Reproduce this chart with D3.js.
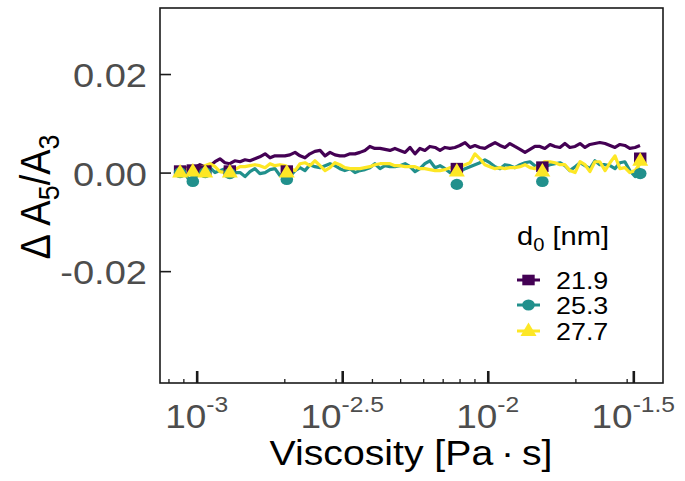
<!DOCTYPE html>
<html>
<head>
<meta charset="utf-8">
<script src="https://cdn.jsdelivr.net/npm/d3@7"></script>
<style>
  body { margin: 0; background: #fff; }
  svg { display: block; }
  text { font-family: "Liberation Sans", Arial, sans-serif; }
</style>
</head>
<body>
<div id="chart"></div>
<script>
// log10 of the viscosity grid of the lines (Pa*s)
const lineLogEta = [
  -3.075, -3.057, -3.040, -3.023, -3.006, -2.989, -2.972, -2.954, -2.937, -2.920,
  -2.903, -2.886, -2.869, -2.851, -2.834, -2.817, -2.800, -2.783, -2.765, -2.748,
  -2.731, -2.714, -2.697, -2.680, -2.662, -2.645, -2.628, -2.611, -2.594, -2.576,
  -2.559, -2.542, -2.525, -2.508, -2.491, -2.473, -2.456, -2.439, -2.422, -2.405,
  -2.388, -2.370, -2.353, -2.336, -2.319, -2.302, -2.284, -2.267, -2.250, -2.233,
  -2.216, -2.199, -2.181, -2.164, -2.147, -2.130, -2.113, -2.096, -2.078, -2.061,
  -2.044, -2.027, -2.010, -1.993, -1.975, -1.958, -1.941, -1.924, -1.907, -1.889,
  -1.872, -1.855, -1.838, -1.821, -1.804, -1.786, -1.769, -1.752, -1.735, -1.718,
  -1.700, -1.683, -1.666, -1.649, -1.632, -1.615, -1.597, -1.580, -1.563, -1.546,
  -1.529, -1.512, -1.494, -1.477
]

// d0 = 21.9 nm
const line219 = [
  0.0006, 0.0010, 0.0008, 0.0012, 0.0010, 0.0016, 0.0012, 0.0014, 0.0022, 0.0028,
  0.0020, 0.0018, 0.0024, 0.0022, 0.0026, 0.0024, 0.0028, 0.0032, 0.0038, 0.0030,
  0.0034, 0.0034, 0.0034, 0.0036, 0.0041, 0.0034, 0.0030, 0.0038, 0.0043, 0.0045,
  0.0034, 0.0041, 0.0036, 0.0034, 0.0034, 0.0038, 0.0038, 0.0041, 0.0045, 0.0053,
  0.0049, 0.0049, 0.0047, 0.0045, 0.0049, 0.0045, 0.0041, 0.0051, 0.0038, 0.0049,
  0.0045, 0.0053, 0.0051, 0.0045, 0.0051, 0.0049, 0.0051, 0.0055, 0.0061, 0.0051,
  0.0055, 0.0051, 0.0049, 0.0055, 0.0061, 0.0055, 0.0051, 0.0059, 0.0053, 0.0047,
  0.0041, 0.0047, 0.0053, 0.0053, 0.0049, 0.0057, 0.0053, 0.0051, 0.0059, 0.0051,
  0.0053, 0.0059, 0.0051, 0.0057, 0.0059, 0.0061, 0.0059, 0.0055, 0.0051, 0.0057,
  0.0055, 0.0049, 0.0051, 0.0055
]

// d0 = 25.3 nm
const line253 = [
  0.0008, 0.0004, -0.0002, -0.0018, -0.0012, 0.0000, 0.0004, 0.0010, 0.0000, 0.0004,
  0.0008, -0.0002, 0.0000, 0.0000, -0.0008, 0.0002, 0.0008, -0.0002, 0.0000, 0.0006,
  0.0008, -0.0006, 0.0000, -0.0008, 0.0004, 0.0010, 0.0004, 0.0016, 0.0012, 0.0010,
  0.0014, 0.0018, 0.0014, 0.0008, 0.0004, 0.0008, 0.0000, 0.0004, 0.0006, 0.0010,
  0.0018, 0.0008, 0.0014, 0.0012, 0.0012, 0.0014, 0.0018, 0.0012, 0.0002, 0.0008,
  0.0018, 0.0024, 0.0010, 0.0014, 0.0008, 0.0000, -0.0002, 0.0002, 0.0008, 0.0012,
  0.0016, 0.0020, 0.0026, 0.0020, 0.0012, 0.0008, 0.0016, 0.0014, 0.0010, 0.0016,
  0.0020, 0.0022, 0.0014, 0.0010, 0.0012, 0.0016, 0.0018, 0.0020, 0.0014, 0.0004,
  0.0012, 0.0020, 0.0014, 0.0008, 0.0024, 0.0016, 0.0016, 0.0014, 0.0008, 0.0020,
  0.0022, 0.0004, -0.0008, 0.0010
]

// d0 = 27.7 nm
const line277 = [
  0.0004, 0.0006, 0.0008, 0.0004, 0.0006, 0.0010, 0.0014, 0.0018, 0.0012, 0.0002,
  0.0000, 0.0000, 0.0006, 0.0012, 0.0012, 0.0014, 0.0016, 0.0014, 0.0010, 0.0018,
  0.0014, 0.0016, 0.0014, 0.0008, 0.0004, 0.0018, 0.0020, 0.0014, 0.0024, 0.0014,
  0.0004, 0.0010, 0.0020, 0.0016, 0.0010, 0.0008, 0.0008, 0.0008, 0.0010, 0.0012,
  0.0016, 0.0018, 0.0018, 0.0018, 0.0014, 0.0014, 0.0012, 0.0012, 0.0012, 0.0008,
  0.0008, 0.0006, 0.0004, 0.0004, 0.0006, 0.0010, 0.0010, 0.0012, 0.0016, 0.0020,
  0.0038, 0.0028, 0.0016, 0.0012, 0.0008, 0.0010, 0.0008, 0.0010, 0.0010, 0.0012,
  0.0016, 0.0010, 0.0008, 0.0016, 0.0022, 0.0022, 0.0020, 0.0016, 0.0016, 0.0004,
  0.0000, 0.0022, 0.0016, 0.0002, 0.0022, 0.0022, 0.0004, 0.0020, 0.0034, 0.0008,
  0.0010, 0.0000, 0.0004, 0.0018
]

// measured points (markers), viscosity in Pa*s
const pointEta = [0.000877, 0.00097, 0.00107, 0.0013, 0.00204, 0.00783, 0.0154, 0.0334]
const point219 = [0.0004, 0.0006, 0.0004, 0.0004, 0.0004, 0.0009, 0.0012, 0.0030]
const point253 = [0.0000, -0.0018, 0.0000, -0.0002, -0.0014, -0.0024, -0.0018, -0.0002]
const point277 = [0.0000, 0.0002, 0.0000, 0.0000, 0.0000, 0.0002, 0.0002, 0.0024]

const seriesNames = ["21.9", "25.3", "27.7"]
const seriesColors = ["#440154", "#21908C", "#FDE725"]

const yTicks = [-0.02, 0, 0.02]
const xMajorExp = ["-3", "-2.5", "-2", "-1.5"]
const xMinorTicks = [8e-4, 9e-4, 2e-3, 3e-3, 4e-3, 5e-3, 6e-3, 7e-3, 8e-3, 9e-3, 2e-2, 3e-2]

// layout
const W = 685, H = 481
const pLeft = 160, pRight = 663, pTop = 8, pBottom = 383
const SX = 1.12   // the reference text is a bit wider than Liberation Sans

const svg = d3.select("#chart").append("svg")
    .attr("width", W)
    .attr("height", H)

const x = d3.scaleLog()
    .domain([Math.pow(10, -3.126), Math.pow(10, -1.398)])
    .range([pLeft, pRight])
const y = d3.scaleLinear()
    .domain([-0.0427, 0.0334])
    .range([pBottom, pTop])

// text helper (stretched a bit horizontally)
function addText(g, tx, ty, anchor, size, color, rot) {
    return g.append("text")
        .attr("transform", "translate(" + tx + "," + ty + ") scale(" + SX + ",1)" + (rot ? " rotate(" + rot + ")" : ""))
        .attr("text-anchor", anchor)
        .attr("font-size", size)
        .attr("fill", color)
}

// lines
const lines = [line219, line253, line277]
const lineGen = d3.line()
    .x(function(d) { return x(Math.pow(10, d[0])) })
    .y(function(d) { return y(d[1]) })

lines.forEach(function(vals, i) {
    const data = lineLogEta.map(function(e, j) { return [e, vals[j]] })
    svg.append("path")
        .datum(data)
        .attr("d", lineGen)
        .attr("fill", "none")
        .attr("stroke", seriesColors[i])
        .attr("stroke-width", 3.2)
        .attr("stroke-linejoin", "round")
})

// markers
function drawSquare(g, cx, cy, color) {
    g.append("rect")
        .attr("x", cx - 6.2).attr("y", cy - 5.3)
        .attr("width", 12.4).attr("height", 10.6)
        .attr("fill", color)
}
function drawCircle(g, cx, cy, color) {
    g.append("ellipse")
        .attr("cx", cx).attr("cy", cy)
        .attr("rx", 6.3).attr("ry", 5.6)
        .attr("fill", color)
}
function drawTriangle(g, cx, cy, color) {
    g.append("path")
        .attr("d", "M" + (cx - 8) + "," + (cy + 5) + "L" + (cx + 8) + "," + (cy + 5) + "L" + cx + "," + (cy - 8.5) + "Z")
        .attr("fill", color)
}
const markers = [drawSquare, drawCircle, drawTriangle]
const points = [point219, point253, point277]

const markG = svg.append("g")
points.forEach(function(vals, i) {
    pointEta.forEach(function(e, j) {
        markers[i](markG, x(e), y(vals[j]), seriesColors[i])
    })
})

// frame
svg.append("rect")
    .attr("x", pLeft).attr("y", pTop)
    .attr("width", pRight - pLeft).attr("height", pBottom - pTop)
    .attr("fill", "none")
    .attr("stroke", "#1a1a1a")
    .attr("stroke-width", 1.6)

// y ticks (inside) + labels
svg.append("g")
    .attr("transform", "translate(" + pLeft + ",0)")
    .call(d3.axisLeft(y).tickValues(yTicks).tickSize(-11).tickFormat(""))
    .call(function(g) { g.select(".domain").remove() })
    .call(function(g) { g.selectAll("line").attr("stroke", "#1a1a1a").attr("stroke-width", 1.6) })

yTicks.forEach(function(t) {
    addText(svg, 147, y(t) + 13, "end", 34, "#4d4d4d")
        .text(d3.format(".2f")(t).replace("−", "-"))
})

// x ticks (inside): major at half decades, minor at the usual log positions
const xMajor = xMajorExp.map(function(s) { return Math.pow(10, +s) })
svg.append("g")
    .attr("transform", "translate(0," + pBottom + ")")
    .call(d3.axisBottom(x).tickValues(xMinorTicks).tickSize(-4).tickFormat(""))
    .call(function(g) { g.select(".domain").remove() })
    .call(function(g) { g.selectAll("line").attr("stroke", "#1a1a1a").attr("stroke-width", 1.3) })
svg.append("g")
    .attr("transform", "translate(0," + pBottom + ")")
    .call(d3.axisBottom(x).tickValues(xMajor).tickSize(-12).tickFormat(""))
    .call(function(g) { g.select(".domain").remove() })
    .call(function(g) { g.selectAll("line").attr("stroke", "#1a1a1a").attr("stroke-width", 2.6) })

xMajorExp.forEach(function(s, i) {
    const t = addText(svg, x(xMajor[i]), 428, "middle", 33, "#4d4d4d")
    t.append("tspan").text("10")
    t.append("tspan").attr("dy", -16).attr("font-size", 22).text(s)
})

// axis titles
const xt = addText(svg, 411, 465, "middle", 35, "#000")
xt.text("Viscosity [Pa\u2009\u00b7\u2009s]")

const yt = addText(svg, 50, 197, "middle", 38, "#000", -90)
yt.append("tspan").text("\u0394 A")
yt.append("tspan").attr("dy", 8).attr("font-size", 27).text("5")
yt.append("tspan").attr("dy", -8).text("/A")
yt.append("tspan").attr("dy", 8).attr("font-size", 27).text("3")

// legend
const legend = svg.append("g")
const lt = addText(legend, 517, 245, "start", 26, "#000")
lt.append("tspan").text("d")
lt.append("tspan").attr("dy", 6).attr("font-size", 18).text("0")
lt.append("tspan").attr("dy", -6).text(" [nm]")

const legendY = [280, 305, 331]
seriesNames.forEach(function(name, i) {
    legend.append("line")
        .attr("x1", 517).attr("x2", 540)
        .attr("y1", legendY[i]).attr("y2", legendY[i])
        .attr("stroke", seriesColors[i])
        .attr("stroke-width", 3)
    markers[i](legend, 528.5, legendY[i], seriesColors[i])
    addText(legend, 556, legendY[i] + 9, "start", 24, "#000").text(name)
})
</script>
</body>
</html>
